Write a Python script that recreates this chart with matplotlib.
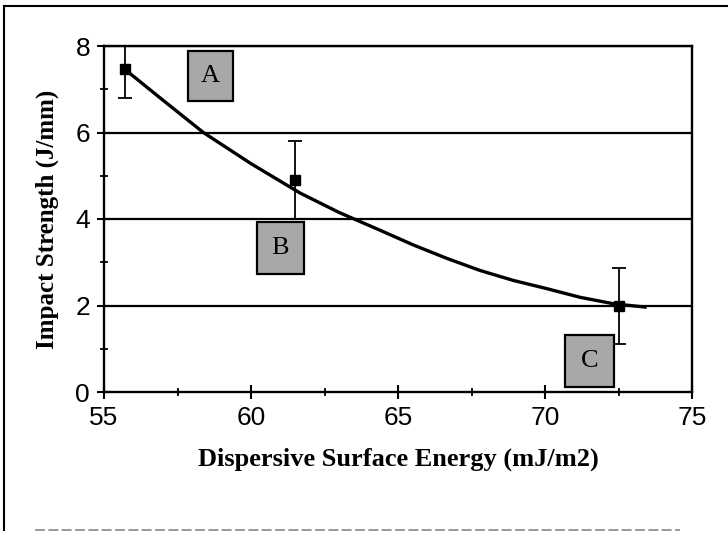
import matplotlib.pyplot as plt
from matplotlib.lines import Line2D
from matplotlib.patches import Rectangle

# measured points with error bars
energy = [55.71, 61.5, 72.5]
impact = [7.46, 4.9, 2.0]
err_low = [0.66, 0.9, 0.89]
err_high = [0.54, 0.9, 0.87]

# trend curve
curve_x = [55.71, 57.0, 58.38, 60.0, 61.67, 63.0, 64.39, 65.52, 66.66, 67.79,
           68.92, 70.06, 71.19, 72.33, 73.46]
curve_y = [7.46, 6.75, 6.0, 5.28, 4.6, 4.15, 3.74, 3.40, 3.09, 2.81,
           2.58, 2.39, 2.19, 2.04, 1.96]

# labelled boxes: (label, x0, x1, y0, y1)
box_labels = ["A", "B", "C"]
box_x = [(57.86, 59.39), (60.2, 61.8), (70.68, 72.35)]
box_y = [(6.73, 7.88), (2.73, 3.93), (0.12, 1.32)]

serif = "Liberation Serif"
sans = "Liberation Sans"

fig = plt.figure(figsize=(7.28, 5.40), dpi=100)
ax = fig.add_axes([104 / 728, 1 - 392 / 540, (692 - 104) / 728, (392 - 46) / 540])

ax.set_xlim(55, 75)
ax.set_ylim(0, 8)
for y in [2, 4, 6, 8]:
    ax.axhline(y, color="black", lw=1.6, zorder=1)

ax.plot(curve_x, curve_y, color="black", lw=2.4, zorder=3, solid_capstyle="butt")
ax.errorbar(energy, impact, yerr=[err_low, err_high], fmt="s", color="black",
            ms=7, lw=1.3, capsize=5, capthick=1.3, zorder=4)

for lab, (x0, x1), (y0, y1) in zip(box_labels, box_x, box_y):
    ax.add_patch(Rectangle((x0, y0), x1 - x0, y1 - y0, facecolor="#a8a8a8",
                           edgecolor="black", lw=1.6, zorder=5))
    ax.text((x0 + x1) / 2, (y0 + y1) / 2, lab, ha="center", va="center",
            fontsize=19, family=serif, zorder=6)

ax.set_xticks([55, 60, 65, 70, 75])
ax.set_xticks([57.5, 62.5, 67.5, 72.5], minor=True)
ax.set_yticks([0, 2, 4, 6, 8])
ax.set_yticks([1, 3, 5, 7], minor=True)
ax.tick_params(which="major", direction="inout", length=10, width=1.5,
               labelsize=19, pad=5, colors="black")
ax.tick_params(which="minor", direction="inout", length=6, width=1.3)
for lbl in ax.get_xticklabels() + ax.get_yticklabels():
    lbl.set_family(sans)

for s in ax.spines.values():
    s.set_linewidth(1.7)

ax.set_xlabel("Dispersive Surface Energy (mJ/m2)", family=serif,
              fontweight="bold", fontsize=19, labelpad=13)
ax.set_ylabel("Impact Strength (J/mm)", family=serif,
              fontweight="bold", fontsize=18, labelpad=12)

# scanned page border
fig.add_artist(Line2D([0.005, 1.0], [1 - 6 / 540, 1 - 6 / 540], color="black", lw=1.5))
fig.add_artist(Line2D([4 / 728, 4 / 728], [1 - 6 / 540, 1 - 530 / 540], color="black", lw=1.5))
fig.add_artist(Line2D([35 / 728, 680 / 728], [1 - 530 / 540, 1 - 530 / 540],
                      color="#888888", lw=1.2, ls=(0, (6, 2))))

fig.savefig("out.png", dpi=100)
